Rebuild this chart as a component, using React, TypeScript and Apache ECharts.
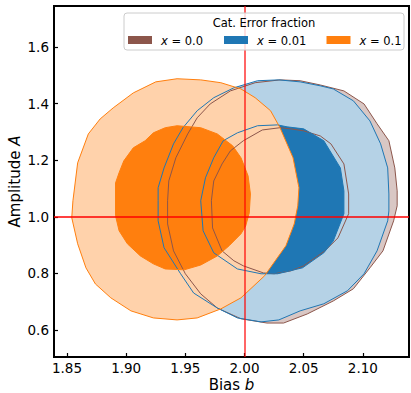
import React, { useEffect, useRef } from 'react';
import * as echarts from 'echarts';

const xTicks = [1.85, 1.9, 1.95, 2.0, 2.05, 2.1];
const yTicks = [0.6, 0.8, 1.0, 1.2, 1.4, 1.6];
const legendTitle = 'Cat. Error fraction';
const fractions = ['0.0', '0.01', '0.1'];
const refBias = 2.0;
const refAmp = 1.0;

const brown95 = [[2.030,1.484],[2.047,1.481],[2.064,1.466],[2.084,1.445],[2.101,1.399],[2.112,1.329],[2.122,1.269],[2.127,1.173],[2.129,1.092],[2.129,1.039],[2.126,0.986],[2.117,0.880],[2.106,0.820],[2.092,0.746],[2.075,0.703],[2.053,0.657],[2.033,0.625],[2.019,0.625],[1.997,0.640],[1.977,0.678],[1.963,0.728],[1.950,0.799],[1.940,0.880],[1.935,0.975],[1.935,1.057],[1.936,1.127],[1.942,1.209],[1.952,1.293],[1.960,1.350],[1.971,1.399],[1.988,1.445],[2.009,1.474]];
const brown68 = [[2.030,1.315],[2.039,1.311],[2.050,1.304],[2.064,1.286],[2.073,1.258],[2.084,1.187],[2.088,1.081],[2.088,1.011],[2.079,0.926],[2.068,0.880],[2.050,0.827],[2.039,0.809],[2.025,0.799],[2.016,0.802],[1.999,0.827],[1.991,0.845],[1.981,0.880],[1.973,0.961],[1.972,1.057],[1.974,1.127],[1.981,1.187],[1.988,1.233],[1.999,1.269],[2.015,1.307]];
const blue95 = [[2.029,1.484],[2.047,1.477],[2.064,1.463],[2.075,1.452],[2.092,1.410],[2.106,1.339],[2.115,1.258],[2.121,1.173],[2.122,1.081],[2.122,1.021],[2.121,0.986],[2.112,0.880],[2.101,0.799],[2.087,0.739],[2.067,0.693],[2.047,0.668],[2.029,0.636],[2.014,0.629],[1.994,0.643],[1.977,0.678],[1.957,0.731],[1.946,0.799],[1.932,0.891],[1.927,0.986],[1.927,1.057],[1.927,1.103],[1.932,1.173],[1.940,1.258],[1.948,1.315],[1.960,1.375],[1.974,1.421],[1.991,1.456],[2.011,1.481]];
const blue68 = [[2.028,1.325],[2.036,1.318],[2.050,1.311],[2.067,1.269],[2.081,1.173],[2.084,1.092],[2.084,1.011],[2.075,0.915],[2.067,0.873],[2.049,0.820],[2.028,0.799],[2.014,0.799],[1.994,0.816],[1.974,0.873],[1.965,0.951],[1.963,1.057],[1.967,1.138],[1.974,1.209],[1.982,1.269],[1.994,1.297],[2.011,1.322]];
const orange95 = [[1.943,1.488],[1.963,1.484],[1.980,1.474],[1.997,1.452],[2.009,1.421],[2.022,1.375],[2.030,1.315],[2.041,1.209],[2.046,1.103],[2.045,1.039],[2.042,0.975],[2.035,0.898],[2.017,0.792],[1.997,0.714],[1.980,0.675],[1.960,0.643],[1.943,0.636],[1.923,0.643],[1.904,0.668],[1.887,0.714],[1.874,0.763],[1.866,0.820],[1.859,0.905],[1.854,0.997],[1.855,1.057],[1.859,1.191],[1.868,1.293],[1.878,1.346],[1.889,1.385],[1.906,1.438],[1.925,1.477]];
const orange68 = [[1.943,1.322],[1.963,1.315],[1.977,1.293],[1.990,1.251],[1.997,1.209],[2.003,1.145],[2.005,1.081],[2.004,1.014],[2.001,0.968],[1.997,0.940],[1.987,0.898],[1.977,0.862],[1.963,0.830],[1.949,0.813],[1.933,0.816],[1.923,0.834],[1.912,0.862],[1.901,0.905],[1.894,0.951],[1.891,1.004],[1.891,1.120],[1.894,1.156],[1.898,1.198],[1.906,1.244],[1.916,1.269],[1.923,1.297],[1.933,1.315]];

const FONT = '"DejaVu Sans", sans-serif';

const sets = [
  { c95: brown95, c68: brown68, color: '#8c564b', light: '#d9c7c4' },
  { c95: blue95, c68: blue68, color: '#1f77b4', light: '#b5d2e6' },
  { c95: orange95, c68: orange68, color: '#ff7f0e', light: '#ffd2ab' },
];

function poly(name: string, pts: number[][], fill: string, stroke: string, extra: any = {}) {
  return {
    type: 'custom',
    name,
    coordinateSystem: 'cartesian2d',
    silent: true,
    data: pts,
    encode: { x: 0, y: 1 },
    renderItem: (params: any, api: any) => {
      if (params.dataIndex !== 0) return null;
      return {
        type: 'polygon',
        shape: { points: pts.map((p) => api.coord(p)) },
        style: { fill, stroke, lineWidth: 1 },
      };
    },
    ...extra,
  };
}

const nameRich = {
  n: { fontFamily: FONT, fontSize: 15, color: '#000', lineHeight: 16 },
  i: { fontFamily: FONT, fontSize: 15, fontStyle: 'italic', color: '#000', lineHeight: 16 },
};

export default function App() {
  const ref = useRef<HTMLDivElement>(null);
  useEffect(() => {
    const chart = echarts.init(ref.current as HTMLDivElement, null, { renderer: 'svg' });
    const series: any[] = [];
    sets.forEach((s, i) => {
      series.push(poly('fill95_' + i, s.c95, s.light, 'none'));
      series.push(poly('fill68_' + i, s.c68, s.color, 'none'));
    });
    sets.forEach((s, i) => {
      series.push(poly('line95_' + i, s.c95, 'none', s.color));
      series.push(poly('line68_' + i, s.c68, 'none', s.color));
    });
    series[series.length - 1].markLine = {
      silent: true,
      symbol: 'none',
      label: { show: false },
      animation: false,
      data: [
        { xAxis: refBias, lineStyle: { color: 'rgba(255,0,0,0.6)', width: 2, type: 'solid' } },
        { yAxis: refAmp, lineStyle: { color: '#ff0000', width: 1.5, type: 'solid' } },
      ],
    };

    const legendEls: any[] = [
      {
        type: 'rect',
        shape: { x: 124, y: 13, width: 280, height: 37, r: 3 },
        style: { fill: 'rgba(255,255,255,0.8)', stroke: '#cccccc', lineWidth: 1 },
        z: 100,
      },
      {
        type: 'text',
        x: 264,
        y: 23,
        style: { text: legendTitle, fontFamily: FONT, fontSize: 11.5, fill: '#000', align: 'center', verticalAlign: 'middle' },
        z: 101,
      },
    ];
    const patchX = [128, 224, 326.5];
    fractions.forEach((f, i) => {
      legendEls.push({
        type: 'rect',
        shape: { x: patchX[i], y: 36, width: 24, height: 8 },
        style: { fill: sets[i].color },
        z: 101,
      });
      legendEls.push({
        type: 'text',
        x: patchX[i] + 33,
        y: 40.5,
        style: {
          text: '{i|x} = ' + f,
          fontFamily: FONT,
          fontSize: 11.5,
          fill: '#000',
          verticalAlign: 'middle',
          rich: { i: { fontFamily: FONT, fontSize: 11.5, fontStyle: 'italic', fill: '#000' } },
        },
        z: 101,
      });
    });

    chart.setOption({
      animation: false,
      backgroundColor: '#ffffff',
      grid: { left: 54, right: 2, top: 6, bottom: 36, show: true, borderColor: '#000', borderWidth: 2, backgroundColor: 'transparent', outerBoundsMode: 'none', containLabel: false },
      xAxis: {
        type: 'value',
        min: 1.839,
        max: 2.139,
        splitLine: { show: false },
        axisLine: { show: false },
        axisTick: { show: true, inside: true, length: 4, customValues: xTicks, lineStyle: { color: '#000', width: 1.2 } },
        axisLabel: { customValues: xTicks, formatter: (v: number) => v.toFixed(2), fontFamily: FONT, fontSize: 13.5, color: '#000', margin: 4 },
        name: '{n|Bias }{i|b}',
        nameLocation: 'middle',
        nameGap: 19.5,
        nameMoveOverlap: false,
        nameTextStyle: { lineHeight: 16, rich: nameRich },
      },
      yAxis: {
        type: 'value',
        min: 0.505,
        max: 1.745,
        splitLine: { show: false },
        axisLine: { show: false },
        axisTick: { show: true, inside: true, length: 4, customValues: yTicks, lineStyle: { color: '#000', width: 1.2 } },
        axisLabel: { customValues: yTicks, formatter: (v: number) => v.toFixed(1), fontFamily: FONT, fontSize: 13.5, color: '#000', margin: 5 },
        name: '{n|Amplitude }{i|A}',
        nameLocation: 'middle',
        nameGap: 31,
        nameMoveOverlap: false,
        nameTextStyle: { lineHeight: 16, rich: nameRich },
      },
      series,
      graphic: { elements: legendEls },
    });
    return () => chart.dispose();
  }, []);
  return <div ref={ref} style={{ position: 'fixed', left: 0, top: 0, width: 411, height: 393 }} />;
}
